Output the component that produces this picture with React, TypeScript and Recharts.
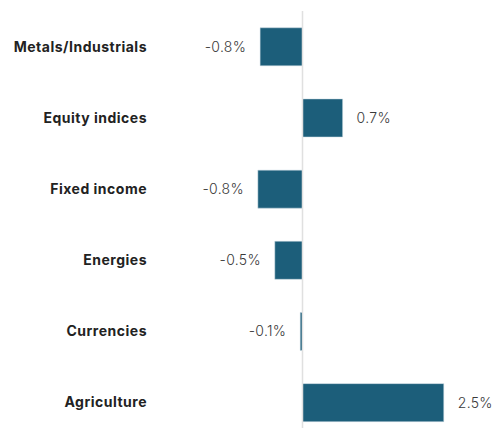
import { BarChart, Bar, XAxis, YAxis, ReferenceLine, LabelList } from "recharts";

const categories = [
  "Metals/Industrials",
  "Equity indices",
  "Fixed income",
  "Energies",
  "Currencies",
  "Agriculture",
];
const returns = [-0.75, 0.71, -0.79, -0.49, -0.04, 2.5];
const returnLabels = ["-0.8%", "0.7%", "-0.8%", "-0.5%", "-0.1%", "2.5%"];

const data = categories.map((name, i) => ({
  name,
  value: returns[i],
  label: returnLabels[i],
}));

const FONT = "Inter, 'Noto Sans', sans-serif";

export default function App() {
  return (
    <div
      style={{
        position: "absolute",
        top: 0,
        left: 0,
        width: 492,
        height: 428,
        overflow: "hidden",
        background: "#fff",
      }}
    >
      <BarChart
        width={492}
        height={438}
        data={data}
        layout="vertical"
        margin={{ top: 11, right: 20, left: 0, bottom: 0 }}
        barCategoryGap="23.6%"
      >
        <XAxis type="number" domain={[-1, 3]} hide />
        <YAxis
          type="category"
          dataKey="name"
          width={246}
          axisLine={false}
          tickLine={false}
          tickSize={0}
          tickMargin={99}
          tick={{
            fontSize: 14,
            fontWeight: 700,
            fill: "#222",
            fontFamily: FONT,
            letterSpacing: 0.5,
          }}
        />
        <ReferenceLine x={0} stroke="#e0e0e0" strokeWidth={1.5} />
        <Bar dataKey="value" fill="#1c5e7a" stroke="#c9d9e0" strokeWidth={0.5} isAnimationActive={false}>
          <LabelList
            dataKey="label"
            position="right"
            offset={14}
            style={{
              fontSize: 14,
              fontWeight: 300,
              fill: "#3a3a3a",
              fontFamily: FONT,
              letterSpacing: 0.3,
            }}
          />
        </Bar>
      </BarChart>
    </div>
  );
}
